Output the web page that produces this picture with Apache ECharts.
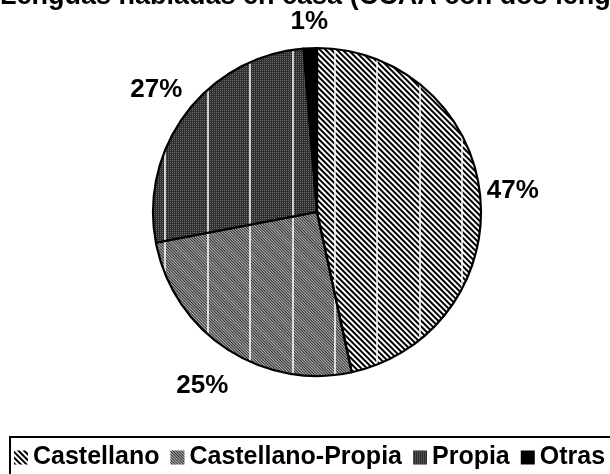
<!DOCTYPE html>
<html>
<head>
<meta charset="utf-8">
<script src="https://cdn.jsdelivr.net/npm/echarts@6/dist/echarts.min.js"></script>
<style>
html, body { margin: 0; padding: 0; background: #fff; }
#chart { width: 610px; height: 474px; }
</style>
</head>
<body>
<div id="chart"></div>
<script>
// 数据
const titleText = 'Lenguas habladas en casa (CCAA con dos lenguas)';
const categories = ['Castellano', 'Castellano-Propia', 'Propia', 'Otras'];
const shares = [46.6, 25.4, 26.7, 1.3];

// 填充样式（灰度 + 纹理）
const fillColors = ['#ffffff', '#b4b4b4', '#2e2e2e', '#000000'];
const fillDecals = [
    { symbol: 'rect', symbolSize: 1, color: '#000', dashArrayX: [1, 0], dashArrayY: [2, 2], rotation: Math.PI / 4 },
    { symbol: 'rect', symbolSize: 1, color: '#2e2e2e', dashArrayX: [1, 0], dashArrayY: [1, 1], rotation: Math.PI / 4 },
    { symbol: 'rect', symbolSize: 1, color: '#6e6e6e', dashArrayX: [1, 1], dashArrayY: [1, 1], rotation: 0 },
    null
];
// 标签离饼边缘的距离
const labelGaps = [33, 44, 38, 26];

const chart = echarts.init(document.getElementById('chart'));
const font = 'Arial, "Liberation Sans", sans-serif';

const filledData = categories.map((name, i) => {
    const style = { color: fillColors[i] };
    if (fillDecals[i]) style.decal = fillDecals[i];
    return { name: name, value: shares[i], itemStyle: style };
});
const outlineData = categories.map((name, i) => ({
    name: name,
    value: shares[i],
    labelLine: { show: false, length: labelGaps[i], length2: 0 }
}));

const pieCenter = [317, 212];
const pieRadius = 164;

const option = {
    animation: false,
    title: {
        text: titleText,
        left: 0,
        top: -17,
        padding: 0,
        textStyle: { fontSize: 27, fontWeight: 'bold', color: '#000', fontFamily: font }
    },
    legend: {
        data: categories,
        left: 10,
        top: 437,
        width: 660,
        icon: 'rect',
        itemWidth: 14,
        itemHeight: 14,
        itemGap: 11,
        padding: [8, 30, 8, 4],
        borderColor: '#000',
        borderWidth: 2,
        textStyle: { fontSize: 25, fontWeight: 'bold', color: '#000', fontFamily: font }
    },
    // 扇区上的白色竖线
    grid: { left: 165, width: 297, top: 47, height: 329, show: false },
    xAxis: {
        type: 'value', min: 0, max: 7, interval: 1, z: 3,
        axisLine: { show: false }, axisTick: { show: false }, axisLabel: { show: false },
        splitLine: { show: true, lineStyle: { color: '#fff', width: 1.5 } }
    },
    yAxis: { type: 'value', show: false },
    series: [
        {
            type: 'pie',
            z: 2,
            center: pieCenter,
            radius: pieRadius,
            startAngle: 90,
            clockwise: true,
            silent: true,
            label: { show: false },
            labelLine: { show: false },
            itemStyle: { borderWidth: 0 },
            data: filledData
        },
        {
            type: 'pie',
            z: 4,
            center: pieCenter,
            radius: pieRadius,
            startAngle: 90,
            clockwise: true,
            silent: true,
            avoidLabelOverlap: false,
            itemStyle: { color: 'rgba(0,0,0,0)', borderColor: '#000', borderWidth: 2.2 },
            label: {
                show: true,
                position: 'outside',
                distanceToLabelLine: 0,
                formatter: p => Math.round(p.percent) + '%',
                fontSize: 26,
                fontWeight: 'bold',
                color: '#000',
                fontFamily: font
            },
            labelLine: { show: false, length: 30, length2: 0 },
            labelLayout: () => ({ align: 'center', verticalAlign: 'middle' }),
            data: outlineData
        }
    ]
};

chart.setOption(option);
</script>
</body>
</html>
